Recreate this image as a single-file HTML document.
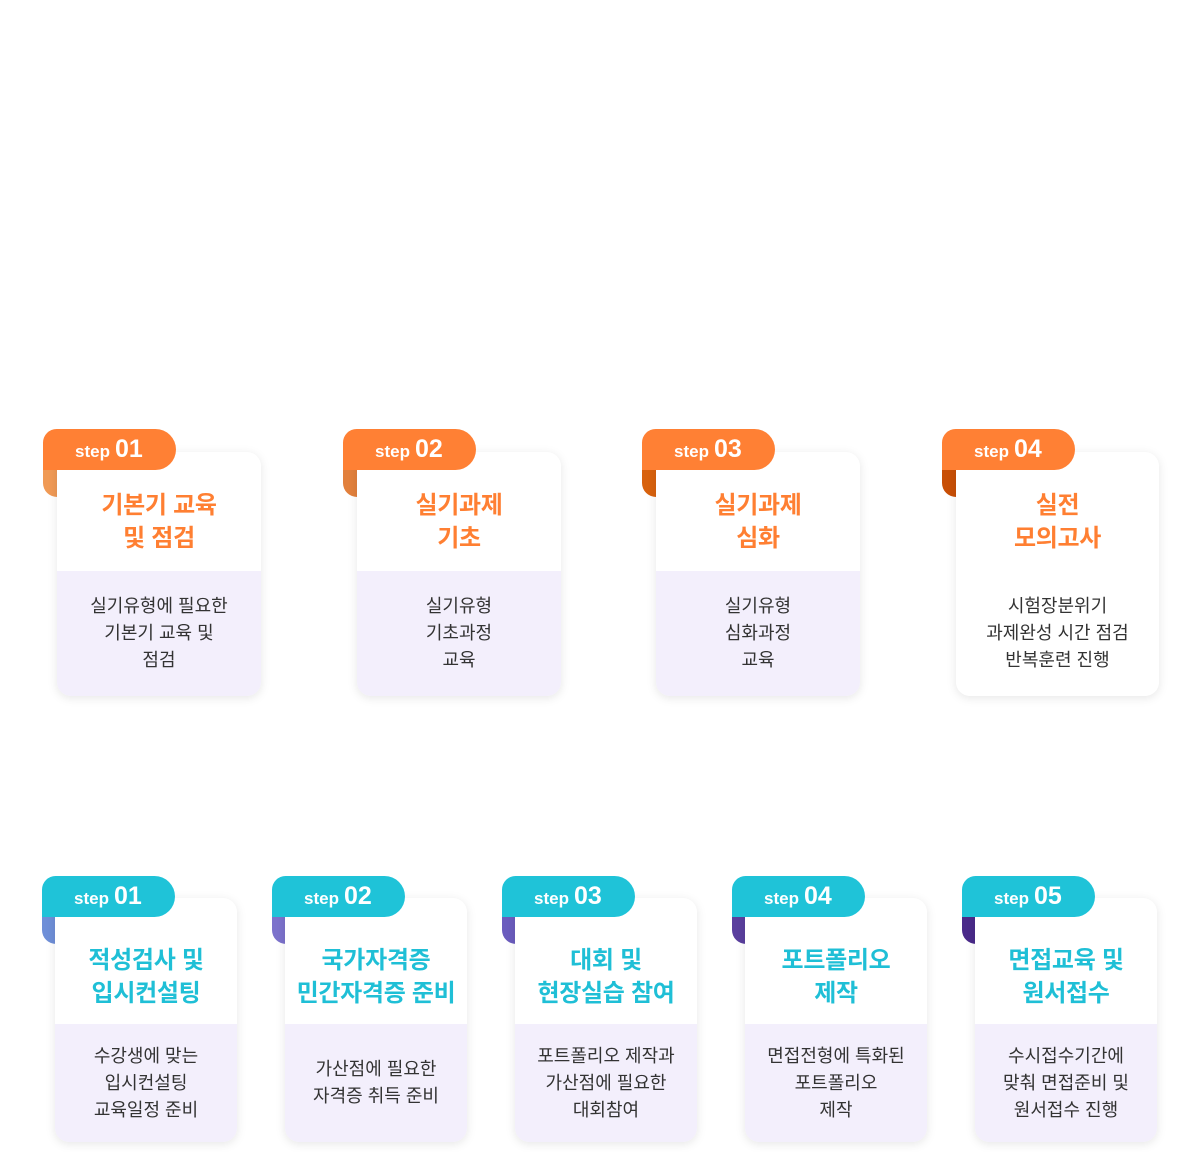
<!DOCTYPE html>
<html><head><meta charset="utf-8"><style>
body{margin:0;width:1200px;height:1152px;background:#fff;position:relative;overflow:hidden;font-family:"Liberation Sans","Noto Sans CJK KR",sans-serif;}
.fold{position:absolute;width:30px;height:40px;border-radius:0 0 0 14px;}
.tab{position:absolute;width:133px;height:41px;border-radius:0 21px 21px 0;border-top-left-radius:14px;color:#fff;box-sizing:border-box;padding-left:32px;line-height:41px;}
.tab .s{font-size:17px;font-weight:bold;}
.tab .n{font-size:25px;font-weight:bold;margin-left:5px;}
.card{position:absolute;background:#fff;border-radius:14px;box-shadow:0 2px 10px rgba(0,0,0,0.10);overflow:hidden;}
.hd{position:absolute;left:0;right:0;top:0;display:flex;align-items:center;justify-content:center;text-align:center;font-weight:bold;font-size:24px;line-height:33px;letter-spacing:-0.3px;}
.bd{position:absolute;left:0;right:0;bottom:0;background:#f3effc;display:flex;align-items:center;justify-content:center;text-align:center;font-size:18px;line-height:27px;color:#333;letter-spacing:0;}
.o{color:#ff7f32}.t{color:#1fbfd6}
</style></head><body>

<div class="fold" style="left:43px;top:457px;background:#f09a55"></div>
<div class="card" style="left:57px;top:452px;width:204px;height:244px"><div class="hd o" style="height:119px;padding-top:20px;box-sizing:border-box">기본기 교육<br>및 점검</div><div class="bd" style="top:119px">실기유형에 필요한<br>기본기 교육 및<br>점검</div></div>
<div class="tab" style="left:43px;top:429px;background:#ff8034"><span class="s">step</span><span class="n">01</span></div>

<div class="fold" style="left:343px;top:457px;background:#e2803c"></div>
<div class="card" style="left:357px;top:452px;width:204px;height:244px"><div class="hd o" style="height:119px;padding-top:20px;box-sizing:border-box">실기과제<br>기초</div><div class="bd" style="top:119px">실기유형<br>기초과정<br>교육</div></div>
<div class="tab" style="left:343px;top:429px;background:#ff8034"><span class="s">step</span><span class="n">02</span></div>

<div class="fold" style="left:642px;top:457px;background:#d8620e"></div>
<div class="card" style="left:656px;top:452px;width:204px;height:244px"><div class="hd o" style="height:119px;padding-top:20px;box-sizing:border-box">실기과제<br>심화</div><div class="bd" style="top:119px">실기유형<br>심화과정<br>교육</div></div>
<div class="tab" style="left:642px;top:429px;background:#ff8034"><span class="s">step</span><span class="n">03</span></div>

<div class="fold" style="left:942px;top:457px;background:#c84f06"></div>
<div class="card" style="left:956px;top:452px;width:203px;height:244px"><div class="hd o" style="height:119px;padding-top:20px;box-sizing:border-box">실전<br>모의고사</div><div class="bd" style="top:119px;background:#fff">시험장분위기<br>과제완성 시간 점검<br>반복훈련 진행</div></div>
<div class="tab" style="left:942px;top:429px;background:#ff8034"><span class="s">step</span><span class="n">04</span></div>

<div class="fold" style="left:42px;top:904px;background:#6f8fd8"></div>
<div class="card" style="left:55px;top:898px;width:182px;height:244px"><div class="hd t" style="height:126px;padding-top:32px;box-sizing:border-box">적성검사 및<br>입시컨설팅</div><div class="bd" style="top:126px">수강생에 맞는<br>입시컨설팅<br>교육일정 준비</div></div>
<div class="tab" style="left:42px;top:876px;background:#1fc3d8"><span class="s">step</span><span class="n">01</span></div>

<div class="fold" style="left:272px;top:904px;background:#7c72cc"></div>
<div class="card" style="left:285px;top:898px;width:182px;height:244px"><div class="hd t" style="height:126px;padding-top:32px;box-sizing:border-box">국가자격증<br>민간자격증 준비</div><div class="bd" style="top:126px">가산점에 필요한<br>자격증 취득 준비</div></div>
<div class="tab" style="left:272px;top:876px;background:#1fc3d8"><span class="s">step</span><span class="n">02</span></div>

<div class="fold" style="left:502px;top:904px;background:#6b5cbe"></div>
<div class="card" style="left:515px;top:898px;width:182px;height:244px"><div class="hd t" style="height:126px;padding-top:32px;box-sizing:border-box">대회 및<br>현장실습 참여</div><div class="bd" style="top:126px">포트폴리오 제작과<br>가산점에 필요한<br>대회참여</div></div>
<div class="tab" style="left:502px;top:876px;background:#1fc3d8"><span class="s">step</span><span class="n">03</span></div>

<div class="fold" style="left:732px;top:904px;background:#5a3f9e"></div>
<div class="card" style="left:745px;top:898px;width:182px;height:244px"><div class="hd t" style="height:126px;padding-top:32px;box-sizing:border-box">포트폴리오<br>제작</div><div class="bd" style="top:126px">면접전형에 특화된<br>포트폴리오<br>제작</div></div>
<div class="tab" style="left:732px;top:876px;background:#1fc3d8"><span class="s">step</span><span class="n">04</span></div>

<div class="fold" style="left:962px;top:904px;background:#4a2a8a"></div>
<div class="card" style="left:975px;top:898px;width:182px;height:244px"><div class="hd t" style="height:126px;padding-top:32px;box-sizing:border-box">면접교육 및<br>원서접수</div><div class="bd" style="top:126px">수시접수기간에<br>맞춰 면접준비 및<br>원서접수 진행</div></div>
<div class="tab" style="left:962px;top:876px;background:#1fc3d8"><span class="s">step</span><span class="n">05</span></div>

</body></html>
